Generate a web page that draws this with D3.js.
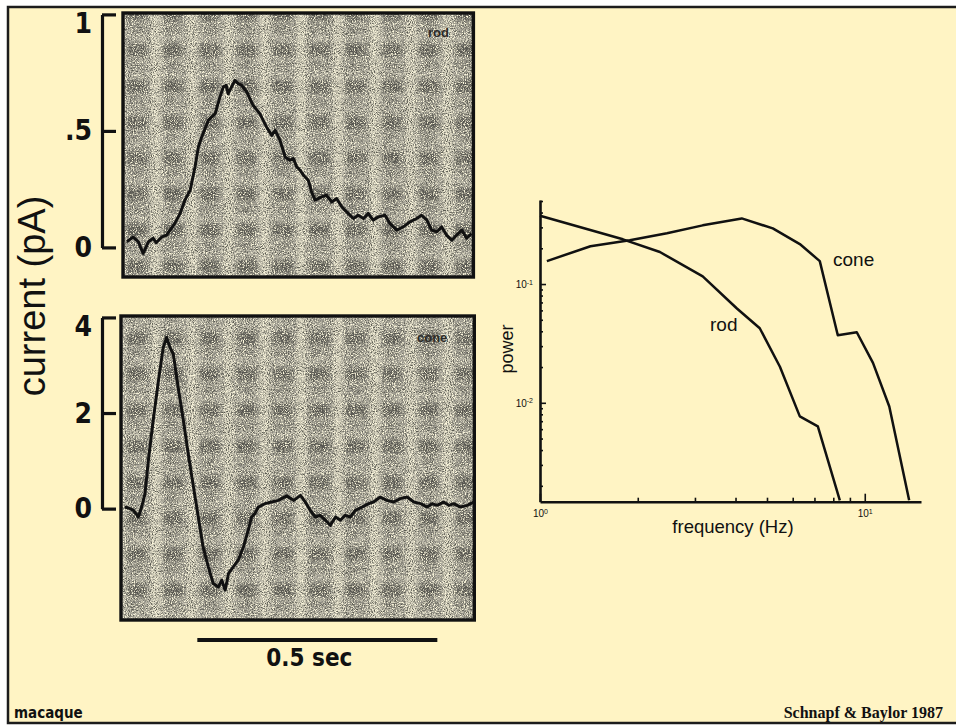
<!DOCTYPE html>
<html>
<head>
<meta charset="utf-8">
<script src="https://cdn.jsdelivr.net/npm/d3@7"></script>
<style>
  body { margin: 0; background: #fff; }
  svg { display: block; }
  .narrow { font-family: "Liberation Sans Narrow", "DejaVu Sans Condensed", Arial, sans-serif; font-weight: bold; }
  .sans { font-family: "Liberation Sans", Arial, Helvetica, sans-serif; }
</style>
</head>
<body>
<svg width="956" height="725"></svg>
<script>
// flash responses, [time (s), current (pA)]
const rodTrace = [
	[0.008, 0.024], [0.021, 0.045], [0.032, 0.024], [0.042, -0.026], [0.053, 0.024], [0.063, 0.039],
	[0.069, 0.020], [0.081, 0.045], [0.091, 0.053], [0.098, 0.074], [0.108, 0.103], [0.119, 0.146],
	[0.129, 0.203], [0.140, 0.246], [0.150, 0.345], [0.157, 0.431], [0.164, 0.474], [0.178, 0.546],
	[0.192, 0.574], [0.202, 0.646], [0.209, 0.688], [0.215, 0.696], [0.219, 0.660], [0.226, 0.688],
	[0.233, 0.717], [0.240, 0.703], [0.247, 0.696], [0.258, 0.667], [0.271, 0.610], [0.285, 0.574],
	[0.299, 0.517], [0.310, 0.481], [0.317, 0.503], [0.327, 0.460], [0.338, 0.388], [0.348, 0.374],
	[0.355, 0.381], [0.362, 0.345], [0.369, 0.331], [0.376, 0.310], [0.386, 0.288], [0.393, 0.238],
	[0.400, 0.203], [0.414, 0.217], [0.424, 0.224], [0.435, 0.195], [0.445, 0.210], [0.456, 0.174],
	[0.469, 0.146], [0.480, 0.124], [0.490, 0.138], [0.501, 0.124], [0.511, 0.146], [0.521, 0.117],
	[0.532, 0.131], [0.546, 0.138], [0.556, 0.103], [0.570, 0.074], [0.584, 0.088], [0.598, 0.110],
	[0.612, 0.124], [0.622, 0.138], [0.633, 0.117], [0.643, 0.074], [0.654, 0.067], [0.664, 0.088],
	[0.674, 0.053], [0.685, 0.031], [0.695, 0.053], [0.706, 0.074], [0.716, 0.039], [0.726, 0.060]
]
const coneTrace = [
	[0.008, 0.033], [0.019, 0.0], [0.026, -0.035], [0.036, -0.175], [0.043, 0.033], [0.050, 0.313],
	[0.057, 1.008], [0.067, 1.843], [0.078, 2.678], [0.088, 3.374], [0.095, 3.582], [0.102, 3.374],
	[0.109, 3.236], [0.119, 2.539], [0.130, 1.843], [0.140, 1.148], [0.151, 0.451], [0.161, -0.175],
	[0.171, -0.802], [0.182, -1.219], [0.192, -1.566], [0.203, -1.637], [0.210, -1.497], [0.217, -1.706],
	[0.224, -1.357], [0.234, -1.219], [0.244, -1.079], [0.255, -0.802], [0.265, -0.453], [0.272, -0.175],
	[0.279, -0.104], [0.286, 0.033], [0.300, 0.104], [0.314, 0.138], [0.328, 0.173], [0.345, 0.267],
	[0.360, 0.173], [0.374, 0.278], [0.384, 0.138], [0.394, -0.035], [0.405, -0.175], [0.415, -0.140],
	[0.426, -0.244], [0.436, -0.349], [0.447, -0.175], [0.457, -0.244], [0.467, -0.140], [0.478, -0.175],
	[0.488, -0.035], [0.502, 0.033], [0.516, 0.104], [0.526, 0.138], [0.540, 0.242], [0.554, 0.173],
	[0.568, 0.138], [0.582, 0.209], [0.596, 0.242], [0.610, 0.138], [0.624, 0.104], [0.638, 0.033],
	[0.648, 0.104], [0.658, 0.069], [0.672, 0.138], [0.683, 0.069], [0.693, 0.104], [0.707, 0.033],
	[0.721, 0.069], [0.735, 0.138]
]
const rodTicks = [0, 0.5, 1]
const rodTickLabels = ["0", ".5", "1"]
const coneTicks = [0, 2, 4]
const coneTickLabels = ["0", "2", "4"]
const scaleBar = [0.159, 0.659]   // 0.5 sec

// power spectra, [frequency (Hz), power]
const rodSpectrum = [
	[1.0, 0.376], [1.80, 0.238], [2.34, 0.186], [3.17, 0.116], [4.04, 0.0622],
	[4.75, 0.0424], [5.48, 0.0201], [6.31, 0.00769], [7.17, 0.00634], [8.38, 0.00151]
]
const coneSpectrum = [
	[1.05, 0.156], [1.43, 0.208], [1.89, 0.234], [2.46, 0.268], [3.17, 0.312], [4.18, 0.357],
	[5.21, 0.294], [6.31, 0.217], [7.27, 0.156], [8.26, 0.0371], [9.45, 0.0393], [10.6, 0.0217],
	[11.9, 0.0093], [13.7, 0.00151]
]
const freqTicks = [1, 10]
const freqExp = ["0", "1"]
const freqMinor = [2, 3, 4, 5, 6, 7, 8, 9]
const powerTicks = [0.1, 0.01]
const powerExp = ["-1", "-2"]
const powerMinor = [0.002, 0.003, 0.004, 0.005, 0.006, 0.007, 0.008, 0.009,
	0.02, 0.03, 0.04, 0.05, 0.06, 0.07, 0.08, 0.09, 0.2, 0.3, 0.4, 0.5]

const svg = d3.select("svg")
const ink = "#111"

// page frame
svg.append("rect")
	.attr("x", 8).attr("y", 7)
	.attr("width", 970).attr("height", 716)
	.attr("fill", "#fff4c4")
	.attr("stroke", "#1c1c1c")
	.attr("stroke-width", 2.5)

// scanned paper texture
const defs = svg.append("defs")
const soft = defs.append("filter").attr("id", "soft")
soft.append("feGaussianBlur").attr("stdDeviation", 2.2)

const pat = defs.append("pattern")
	.attr("id", "blotch")
	.attr("patternUnits", "userSpaceOnUse")
	.attr("width", 36.5).attr("height", 36)
	.attr("x", 4).attr("y", 0)
const cell = pat.append("g").attr("filter", "url(#soft)")
cell.append("rect").attr("x", 1).attr("y", -4).attr("width", 9).attr("height", 44)
	.attr("fill", "#fbf6dc").attr("opacity", 0.55)
cell.append("rect").attr("x", 13).attr("y", 8).attr("width", 20).attr("height", 13)
	.attr("fill", "#1e1d1a").attr("opacity", 0.6)
cell.append("rect").attr("x", 15).attr("y", 26).attr("width", 15).attr("height", 6)
	.attr("fill", "#1e1d1a").attr("opacity", 0.3)

const dark = defs.append("filter").attr("id", "grainDark")
	.attr("x", 0).attr("y", 0).attr("width", 1).attr("height", 1)
dark.append("feTurbulence").attr("type", "fractalNoise")
	.attr("baseFrequency", 0.95).attr("numOctaves", 2).attr("seed", 4)
dark.append("feColorMatrix").attr("type", "matrix")
	.attr("values", "0 0 0 0 0.1  0 0 0 0 0.1  0 0 0 0 0.08  3.2 0 0 0 -1.45")

const light = defs.append("filter").attr("id", "grainLight")
	.attr("x", 0).attr("y", 0).attr("width", 1).attr("height", 1)
light.append("feTurbulence").attr("type", "fractalNoise")
	.attr("baseFrequency", 0.9).attr("numOctaves", 2).attr("seed", 11)
light.append("feColorMatrix").attr("type", "matrix")
	.attr("values", "0 0 0 0 1  0 0 0 0 0.96  0 0 0 0 0.74  0 3.4 0 0 -1.4")

function tracePanel(id, trace, x, y, ticks, labels, name, nameAt) {
	const [x0, x1] = x.range()
	const [y1, y0] = y.range()
	const g = svg.append("g")

	defs.append("clipPath").attr("id", "clip-" + id)
		.append("rect").attr("x", x0).attr("y", y0).attr("width", x1 - x0).attr("height", y1 - y0)

	const box = () => g.append("rect")
		.attr("x", x0).attr("y", y0).attr("width", x1 - x0).attr("height", y1 - y0)
	box().attr("fill", "#a9a69b")
	box().attr("fill", "url(#blotch)")
	box().attr("filter", "url(#grainLight)")
	box().attr("filter", "url(#grainDark)")
	box().attr("fill", "none").attr("stroke", ink).attr("stroke-width", 3.4)

	g.append("text")
		.attr("class", "sans")
		.attr("x", nameAt[0]).attr("y", nameAt[1])
		.attr("font-size", 13).attr("font-weight", "bold")
		.attr("fill", "#2c2b28")
		.text(name)

	g.append("path")
		.datum(trace)
		.attr("clip-path", "url(#clip-" + id + ")")
		.attr("fill", "none")
		.attr("stroke", ink)
		.attr("stroke-width", 3)
		.attr("stroke-linejoin", "round")
		.attr("d", d3.line().x(d => x(d[0])).y(d => y(d[1])))

	// bracket-style axis
	const lo = d3.min(ticks), hi = d3.max(ticks)
	const bracket = y.copy().domain([lo, hi]).range([y(lo), y(hi)])
	const ax = svg.append("g")
		.attr("class", "bracket")
		.attr("transform", "translate(102,0)")
		.call(d3.axisLeft(bracket).tickValues(ticks)
			.tickSizeInner(-14).tickSizeOuter(0).tickPadding(10)
			.tickFormat((d, i) => labels[i]))
	ax.attr("font-family", null).attr("font-size", null)
	ax.selectAll("path, line").attr("stroke", ink).attr("stroke-width", 3.2)
	ax.selectAll("text")
		.attr("class", "narrow")
		.attr("font-size", 28)
		.attr("fill", ink)
		.attr("transform", d => d === hi ? "translate(0,9)" : null)
}

const xRod = d3.scaleLinear().domain([0, 0.73]).range([123, 473.4])
const yRod = d3.scaleLinear().domain([-0.127, 1.006]).range([277, 13])
const xCone = d3.scaleLinear().domain([0, 0.736]).range([121, 474.3])
const yCone = d3.scaleLinear().domain([-2.33, 4.03]).range([620, 316])

tracePanel("rod", rodTrace, xRod, yRod, rodTicks, rodTickLabels, "rod", [428, 37])
tracePanel("cone", coneTrace, xCone, yCone, coneTicks, coneTickLabels, "cone", [417, 342])

svg.append("text")
	.attr("class", "sans")
	.attr("transform", "translate(45,296) rotate(-90)")
	.attr("text-anchor", "middle")
	.attr("font-size", 38)
	.attr("fill", ink)
	.text("current (pA)")

// time scale bar
svg.append("line")
	.attr("x1", xCone(scaleBar[0])).attr("x2", xCone(scaleBar[1]))
	.attr("y1", 640).attr("y2", 640)
	.attr("stroke", ink).attr("stroke-width", 4)
svg.append("text")
	.attr("class", "narrow")
	.attr("x", xCone((scaleBar[0] + scaleBar[1]) / 2) - 8).attr("y", 666)
	.attr("text-anchor", "middle")
	.attr("font-size", 24)
	.attr("fill", ink)
	.text("0.5 sec")

// power spectrum panel
const xF = d3.scaleLog().domain([1, 14.9]).range([540, 921])
const yP = d3.scaleLog().domain([0.00147, 0.51]).range([501.7, 200])

const sup = (sel, exps) => sel.selectAll(".tick text").each(function (d, i) {
	const t = d3.select(this).text("10")
	t.append("tspan").attr("dy", "-0.45em").attr("font-size", 7).text(exps[i])
})
const styleTicks = g => g.selectAll(".tick line").attr("stroke", ink).attr("stroke-width", 1.6)

const gx = svg.append("g").attr("transform", "translate(0,501.7)")
	.call(d3.axisBottom(xF).tickValues(freqTicks).tickSizeInner(-8).tickSizeOuter(0).tickPadding(8))
	.call(styleTicks)
gx.selectAll("text").attr("font-size", 10).attr("fill", ink)
sup(gx, freqExp)
svg.append("g").attr("transform", "translate(0,501.7)")
	.call(d3.axisBottom(xF).tickValues(freqMinor).tickSize(-4).tickFormat(""))
	.call(g => g.select(".domain").remove())
	.call(styleTicks)

const gy = svg.append("g").attr("transform", "translate(540,0)")
	.call(d3.axisLeft(yP).tickValues(powerTicks).tickSizeInner(-6).tickSizeOuter(0).tickPadding(7))
	.call(styleTicks)
gy.selectAll("text").attr("font-size", 10).attr("fill", ink)
sup(gy, powerExp)
svg.append("g").attr("transform", "translate(540,0)")
	.call(d3.axisLeft(yP).tickValues(powerMinor).tickSize(-3).tickFormat(""))
	.call(g => g.select(".domain").remove())
	.call(styleTicks)

gx.select(".domain").attr("stroke", ink).attr("stroke-width", 2.6)
gy.select(".domain").attr("stroke", ink).attr("stroke-width", 2.6)
gx.attr("font-family", "Liberation Sans, Arial, sans-serif")
gy.attr("font-family", "Liberation Sans, Arial, sans-serif")

const spec = d3.line().x(d => xF(d[0])).y(d => yP(d[1]))
svg.append("g").selectAll("path")
	.data([rodSpectrum, coneSpectrum])
	.join("path")
	.attr("fill", "none")
	.attr("stroke", ink)
	.attr("stroke-width", 2.5)
	.attr("stroke-linejoin", "round")
	.attr("d", spec)

svg.append("text").attr("class", "sans")
	.attr("x", 833).attr("y", 266).attr("font-size", 19).attr("fill", ink)
	.text("cone")
svg.append("text").attr("class", "sans")
	.attr("x", 710).attr("y", 331).attr("font-size", 19).attr("fill", ink)
	.text("rod")
svg.append("text").attr("class", "sans")
	.attr("transform", "translate(513,349) rotate(-90)")
	.attr("text-anchor", "middle").attr("font-size", 18).attr("fill", ink)
	.text("power")
svg.append("text").attr("class", "sans")
	.attr("x", 733).attr("y", 533)
	.attr("text-anchor", "middle").attr("font-size", 18.5).attr("fill", ink)
	.text("frequency (Hz)")

// footer
svg.append("text").attr("class", "narrow")
	.attr("x", 14).attr("y", 718).attr("font-size", 15).attr("fill", ink)
	.text("macaque")
svg.append("text")
	.attr("x", 943).attr("y", 718)
	.attr("text-anchor", "end")
	.attr("font-family", "Liberation Serif, Times New Roman, serif")
	.attr("font-weight", "bold").attr("font-size", 16).attr("fill", ink)
	.text("Schnapf & Baylor 1987")
</script>
</body>
</html>
